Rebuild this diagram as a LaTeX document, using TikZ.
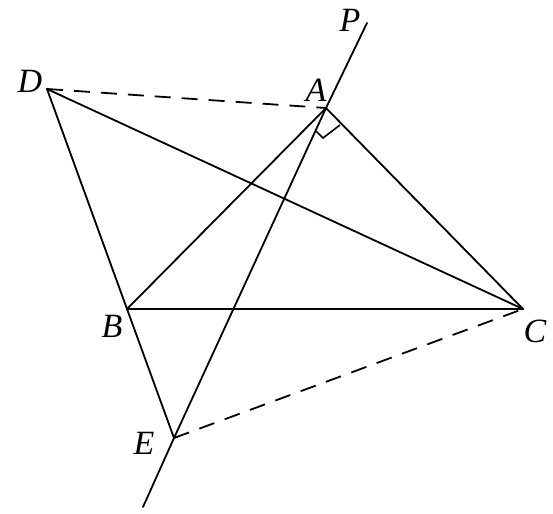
\documentclass[tikz,border=0pt]{standalone}
\usepackage{fontspec}
\setmainfont{Liberation Serif}
\begin{document}
\begin{tikzpicture}[x=1pt,y=-1pt,
  seg/.style={line width=1.8pt,line cap=round},
  dseg/.style={line width=1.8pt,dash pattern=on 16pt off 11pt},
  lab/.style={font=\fontsize{34}{34}\selectfont\itshape,inner sep=0pt}]
\useasboundingbox (0,0) rectangle (553,513);
\coordinate (D) at (47,89);
\coordinate (A) at (326,108);
\coordinate (P) at (367,23);
\coordinate (C) at (523,309);
\coordinate (B) at (127,309);
\coordinate (E) at (174,438);
\coordinate (F) at (143,507);
\coordinate (R1) at (316,131);
\coordinate (R2) at (323,138);
\coordinate (R3) at (340,125);
% solid lines
\draw[seg] (D) -- (C);
\draw[seg] (D) -- (B) -- (E);
\draw[seg] (P) -- (A) -- (E) -- (F);
\draw[seg] (A) -- (B);
\draw[seg] (A) -- (C);
\draw[seg] (B) -- (C);
% dashed lines
\draw[dseg] (D) -- (A);
\draw[dseg] (E) -- (C);
% right angle mark
\draw[line width=1.6pt] (R1) -- (R2) -- (R3);
% labels
\node[lab] (lD) at (30,81) {D};
\node[lab] (lP) at (350,20) {P};
\node[lab] (lA) at (316,90) {A};
\node[lab] (lC) at (535,331) {C};
\node[lab] (lB) at (112,326) {B};
\node[lab] (lE) at (144,443) {E};
\end{tikzpicture}
\end{document}
